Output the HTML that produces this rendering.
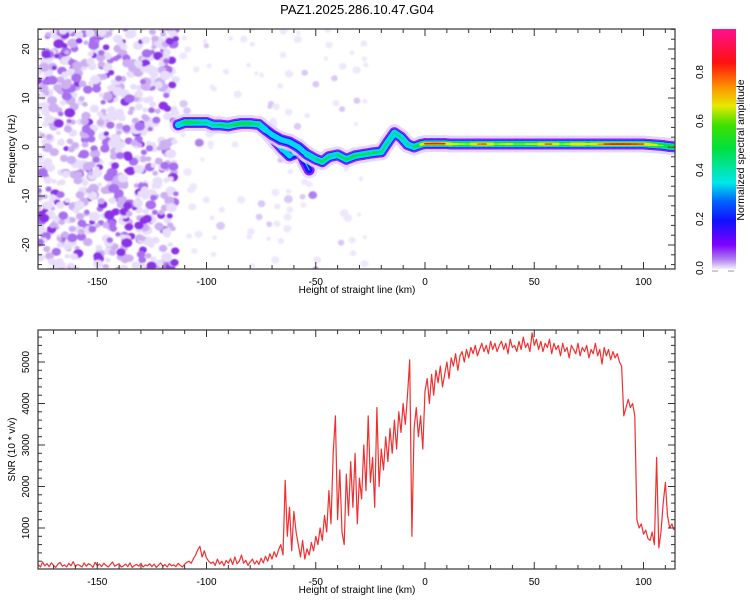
<!DOCTYPE html>
<html><head><meta charset="utf-8"><style>
html,body{margin:0;padding:0;background:#fff}
svg{display:block;font-family:"Liberation Sans",sans-serif}
</style></head><body>
<svg id="c" width="750" height="600" viewBox="0 0 750 600" xmlns="http://www.w3.org/2000/svg">
<defs>
<clipPath id="clipTop"><rect x="38" y="29" width="637" height="240"/></clipPath>
<clipPath id="clipBot"><rect x="38" y="330" width="637" height="239"/></clipPath>
<filter id="blur" x="-20%" y="-20%" width="140%" height="140%"><feGaussianBlur stdDeviation="0.8"/></filter>
<linearGradient id="cmap" x1="0" y1="1" x2="0" y2="0">
<stop offset="0" stop-color="#f4eefc"/><stop offset="0.04" stop-color="#b080f0"/><stop offset="0.1" stop-color="#8000ff"/>
<stop offset="0.2" stop-color="#1010ff"/><stop offset="0.28" stop-color="#0060ff"/><stop offset="0.36" stop-color="#00e8e8"/>
<stop offset="0.5" stop-color="#00e040"/><stop offset="0.6" stop-color="#40e000"/><stop offset="0.68" stop-color="#e8e800"/>
<stop offset="0.76" stop-color="#ff9000"/><stop offset="0.86" stop-color="#ff1010"/><stop offset="1" stop-color="#ff1090"/>
</linearGradient>
</defs>
<text x="357" y="14" font-size="13" text-anchor="middle">PAZ1.2025.286.10.47.G04</text>
<g id="top"></g>
<g id="bot"></g>
<g id="cbar"></g>
</svg>
<script>
// ---------- data ----------
const snrStartKm = -177;
const snrStepKm = 1;
const snrValues = [
120,60,180,90,140,70,160,100,50,130,
170,80,110,60,150,90,190,70,120,100,
60,160,80,140,110,50,170,90,130,70,
150,100,60,120,180,80,110,140,60,90,
130,70,160,50,100,120,80,150,60,110,
90,140,70,130,50,100,160,80,120,60,
140,90,110,70,150,100,60,130,170,200,
150,260,350,480,560,300,450,280,200,150,
180,100,250,130,200,90,220,150,260,120,
300,140,200,350,150,220,100,180,250,130,
210,120,270,160,320,200,380,250,430,300,
480,600,350,2150,800,1500,450,1400,900,600,
300,700,250,500,350,650,450,800,600,1000,
700,1300,900,1900,1100,2800,3700,1200,2400,900,
600,2300,1300,2600,1500,2800,1100,2200,1700,3000,
1900,3700,2100,2700,1500,3900,2000,2900,2400,3200,
2600,3400,2800,3600,2900,3800,3300,4000,3500,4200,
5050,800,3400,3900,3200,3700,2900,4300,4600,4000,
4700,4200,4800,4500,4900,4400,4700,5000,4600,5100,
4900,5200,4800,5150,5250,5000,5300,5100,5350,5200,
5400,5150,5300,5450,5250,5400,5200,5500,5300,5450,
5250,5400,5500,5300,5450,5200,5550,5350,5400,5250,
5500,5300,5600,5350,5450,5250,5700,5400,5550,5300,
5500,5250,5450,5350,5550,5200,5450,5300,5400,5150,
5450,5250,5350,5100,5400,5300,5200,5450,5150,5350,
5250,5400,5100,5300,5200,5450,5150,5300,4950,5350,
5150,5300,5050,5250,5100,5200,5000,4900,3700,3900,
4100,3900,4000,3700,1200,1000,1100,850,950,750,
700,900,600,2700,520,900,1600,2100,1300,1000,
1100,950];
const ridgeKm   = [-113,-110,-107,-104,-100,-97,-94,-90,-87,-84,-80,-76,-73,-70,-66,-62,-58,-54,-50,-47,-44,-40,-36,-32,-28,-24,-20,-17,-14,-11,-8,-5,-2,0,3,6,9,12,15,18,21,24,26,28,31,34,37,40,43,46,49,52,55,58,61,64,67,70,73,76,79,82,85,88,91,94,97,100,103,106,109,112,115];
const ridgeHz   = [4.5,5,5,5,5,4.5,4.5,4.3,4.6,4.8,4.8,4.6,3.5,2.5,1.5,1,0,-1.5,-2.5,-3,-2,-1.6,-2.5,-1.8,-1.5,-1.2,-1,1,2.9,2,0.5,0,0.5,0.7,0.7,0.7,0.7,0.6,0.6,0.6,0.6,0.6,0.6,0.6,0.6,0.6,0.6,0.6,0.6,0.6,0.6,0.6,0.6,0.6,0.6,0.6,0.6,0.6,0.6,0.6,0.6,0.6,0.6,0.6,0.6,0.6,0.6,0.6,0.5,0.4,0.3,0.1,0];
const ridgeAmp  = [0.4,0.55,0.6,0.5,0.5,0.45,0.55,0.5,0.55,0.6,0.55,0.5,0.4,0.45,0.4,0.45,0.4,0.45,0.5,0.55,0.5,0.45,0.6,0.5,0.55,0.5,0.55,0.45,0.5,0.5,0.45,0.5,0.6,0.9,0.92,0.92,0.9,0.7,0.75,0.65,0.7,0.8,0.9,0.85,0.7,0.65,0.75,0.7,0.62,0.7,0.7,0.7,0.88,0.85,0.65,0.7,0.7,0.88,0.75,0.7,0.8,0.88,0.92,0.9,0.92,0.9,0.9,0.88,0.75,0.72,0.6,0.65,0.7];
const branchKm  = [-71,-68,-65,-62,-57,-55,-53];
const branchHz  = [2.5,1,-0.5,-1.8,-1,-3,-4.7];
const branchAmp = [0.45,0.5,0.45,0.4,0.35,0.35,0.3];
const xTicks = [-150,-100,-50,0,50,100];
const freqTicks = [-20,-10,0,10,20];
const snrTicks = [1000,2000,3000,4000,5000];
const cbarTicks = [0.0,0.2,0.4,0.6,0.8];
const levelVals = [0.02,0.1,0.2,0.3,0.45,0.62,0.8];
const levelCols = ['#e2d4fa','#9020ff','#1818ff','#00d8f0','#00e050','#e8e800','#ff1818'];

// ---------- scales ----------
const NS='http://www.w3.org/2000/svg';
const X0=38,X1=675,TT=29,TB=269,BT=330,BB=569;
const xs = km => 425 + km*2.185;
const fy = f => 147 - f*4.9;
const sy = v => 569.5 - v*0.0415;
const cy = v => 268 - v*245;
function mk(tag, attrs, parent){const e=document.createElementNS(NS,tag);for(const k in attrs)e.setAttribute(k,attrs[k]);parent.appendChild(e);return e;}
const topG=document.getElementById('top'), botG=document.getElementById('bot'), cb=document.getElementById('cbar');

// ---------- top: noise texture ----------
const noiseG = mk('g',{'clip-path':'url(#clipTop)',filter:'url(#blur)'},topG);


function h(i){const s=Math.sin(i*12.9898+78.233)*43758.5453;return s-Math.floor(s);}
for(let i=0;i<760;i++){
  const km=-178+h(i)*64, f=-25.5+h(i+5000)*50.5, r=h(i+9000), c=h(i+13000);
  const col = c<0.42?'#e8defb':(c<0.72?'#cdb0f2':(c<0.9?'#a870f0':'#8a30e8'));
  mk('ellipse',{cx:xs(km),cy:fy(f),rx:2.5+r*3,ry:2.2+r*2.5,fill:col},noiseG);
}
for(let i=0;i<120;i++){
  const km=-112+h(i+20000)*85, f=-25+h(i+21000)*50, r=h(i+22000), c=h(i+23000);
  const col = c<0.8?'#efe8fc':(c<0.96?'#dac8f6':'#b080f0');
  mk('ellipse',{cx:xs(km),cy:fy(f),rx:2+r*2.5,ry:2+r*2,fill:col},noiseG);
}
// ---------- top: ridge ----------
const ridgeG = mk('g',{'clip-path':'url(#clipTop)','stroke-linecap':'round'},topG);


const baseW=[17,11,8,6.5,4.5,3.2,2.4];
function drawRidge(K,F,A){
  levelVals.forEach((L,li)=>{
    for(let i=0;i<K.length-1;i++){
      const a=(A[i]+A[i+1])/2;
      const w=baseW[li]*Math.max(0,Math.min(1,(a-L)/0.15));
      if(w<=0.3) continue;
      const s=mk('line',{x1:xs(K[i]),y1:fy(F[i]),x2:xs(K[i+1]),y2:fy(F[i+1]),stroke:levelCols[li],'stroke-width':w,opacity:li===0?0.7:1},ridgeG);
      
      
    }
  });
}
drawRidge(branchKm,branchHz,branchAmp);
drawRidge(ridgeKm,ridgeHz,ridgeAmp);

// ---------- axes helper ----------
function frame(g,y0,y1,yTicks,ys,yMinor,yMin,yMax,title){
  mk('rect',{x:X0,y:y0,width:X1-X0,height:y1-y0,fill:'none',stroke:'#444','stroke-width':1.3},g);
  for(let k=-170;k<=110;k+=10){
    const x=xs(k), major=k%50===0, len=major?7:4;
    mk('line',{x1:x,y1:y1,x2:x,y2:y1-len,stroke:'#333','stroke-width':1},g);
    mk('line',{x1:x,y1:y0,x2:x,y2:y0+len,stroke:'#333','stroke-width':1},g);
  }
  xTicks.forEach(k=>{
    const t=mk('text',{x:xs(k),y:y1+16,'font-size':10,'text-anchor':'middle'},g);t.textContent=k;
    
    
  });
  for(let v=yMin;v<=yMax;v+=yMinor){
    const y=ys(v); if(y<y0-0.5||y>y1+0.5) continue;
    const major=yTicks.includes(v), len=major?7:4;
    mk('line',{x1:X0,y1:y,x2:X0+len,y2:y,stroke:'#333','stroke-width':1},g);
    mk('line',{x1:X1,y1:y,x2:X1-len,y2:y,stroke:'#333','stroke-width':1},g);
  }
  yTicks.forEach(v=>{
    const y=ys(v);
    const t=mk('text',{x:29,y:y,'font-size':10,'text-anchor':'middle',transform:`rotate(-90 29 ${y})`},g);t.textContent=v;
    
    
  });
  const xt=mk('text',{x:357,y:y1+24,'font-size':10,'text-anchor':'middle'},g);xt.textContent='Height of straight line (km)';
  
  
  const yc=(y0+y1)/2;
  const yt=mk('text',{x:15,y:yc,'font-size':10,'text-anchor':'middle',transform:`rotate(-90 15 ${yc})`},g);yt.textContent=title;
  
  
}
frame(topG,TT,TB,freqTicks,fy,2,-24,24,'Frequency (Hz)');

// ---------- bottom: SNR line ----------
let pts=[];
snrValues.forEach((v,i)=>{pts.push(xs(snrStartKm+i*snrStepKm).toFixed(1)+','+sy(v).toFixed(1));});
const line=mk('polyline',{points:pts.join(' '),fill:'none',stroke:'#f03030','stroke-width':1.2,'clip-path':'url(#clipBot)','stroke-linejoin':'round'},botG);


frame(botG,BT,BB,snrTicks,sy,200,200,5800,'SNR (10 * v/v)');

// ---------- colorbar ----------
const bar=mk('rect',{x:712,y:29,width:24,height:240,fill:'url(#cmap)'},cb);


cbarTicks.forEach(v=>{
  const y=cy(v);
  const t=mk('text',{x:703,y:y,'font-size':10,'text-anchor':'middle',transform:`rotate(-90 703 ${y})`},cb);t.textContent=v.toFixed(1);
  
  
});
mk('line',{x1:712,y1:271,x2:718,y2:271,stroke:'#999'},cb);
mk('line',{x1:728,y1:271,x2:734,y2:271,stroke:'#999'},cb);
const ct=mk('text',{x:744,y:150,'font-size':10.5,'text-anchor':'middle',transform:'rotate(-90 744 150)'},cb);ct.textContent='Normalized spectral amplitude';


</script>
</body></html>
